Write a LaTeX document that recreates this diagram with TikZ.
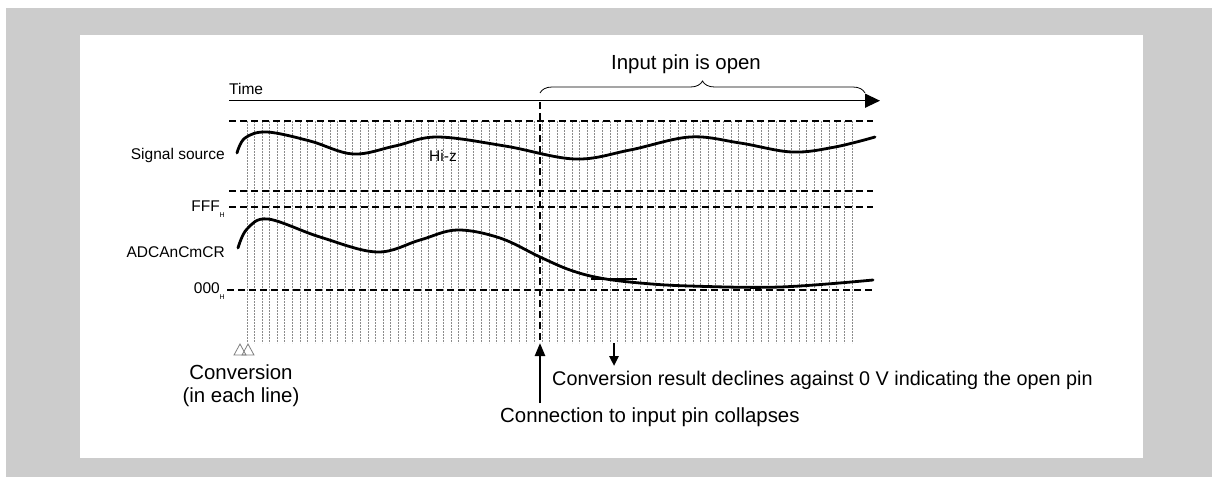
\documentclass[tikz,border=0pt]{standalone}
\usepackage{fontspec}
\setmainfont{Liberation Sans}
\usetikzlibrary{decorations.pathreplacing,arrows.meta}
\begin{document}
\begin{tikzpicture}[x=1pt,y=-1pt,
 lbl/.style={font=\fontsize{15.5}{18}\selectfont, inner sep=0pt},
 big/.style={font=\fontsize{20.4}{24}\selectfont, inner sep=0pt},
 level/.style={line width=2.4pt, dash pattern=on 7pt off 4pt},
 tickln/.style={black!45, line width=0.8pt, dash pattern=on 2pt off 1pt},
 wave/.style={line width=2.8pt, line cap=round},
 ptr/.style={line width=2.4pt, -{Triangle[length=13pt,width=10pt]}},
 tri/.style={black!50, line width=0.8pt, line join=miter},
]
\fill[white] (0,0) rectangle (1212,477);
\fill[black!20] (6,8) rectangle (1212,477);
\fill[white] (80,35) rectangle (1143,458);
\useasboundingbox (0,0) rectangle (1212,477);

% conversion ticks
\foreach \i in {0,...,80}
  \draw[tickln] ({247+7.5625*\i},121) -- ({247+7.5625*\i},343);

% levels
\coordinate (l1a) at (229,121); \coordinate (l1b) at (873,121);
\coordinate (l2a) at (229,191); \coordinate (l2b) at (873,191);
\coordinate (l3a) at (229,207); \coordinate (l3b) at (873,207);
\coordinate (l4a) at (227,290); \coordinate (l4b) at (873,290);
\draw[level] (l1a) -- (l1b);
\draw[level] (l2a) -- (l2b);
\draw[level] (l3a) -- (l3b);
\draw[level] (l4a) -- (l4b);

% time axis
\coordinate (t0) at (229,100.7);
\coordinate (t1) at (880,100.7);
\draw[line width=1.3pt, -{Triangle[length=15pt,width=14pt]}] (t0) -- (t1);
\node[lbl, anchor=west] (time) at (229,89) {Time};

% brace
\coordinate (b0) at (540,93);
\coordinate (b1) at (865,93);
\draw[decorate, decoration={brace, amplitude=12pt}, line width=0.8pt] (b0) -- (b1);
\node[big] (open) at (686,64) {Input pin is open};

% collapse marker
\coordinate (c0) at (540,102);
\coordinate (c1) at (540,343);
\draw[level] (c0) -- (c1);

% signals
\draw[wave] plot[smooth, tension=0.6] coordinates {(237,153) (245,138) (267,132) (310,141) (353,154) (395,146) (437,137) (505,146) (575,159) (630,150) (690,137) (740,143) (792,152) (835,147) (875,137)};
\draw[wave] plot[smooth, tension=0.6] coordinates {(238,248) (247,229) (268,219) (320,237) (377,252) (420,240) (457,230) (500,238) (540,257) (570,270) (600,278) (640,283) (690,286) (780,287) (873,280)};
\coordinate (s0) at (591,279); \coordinate (s1) at (637,279);
\draw[line width=2.6pt] (s0) -- (s1);

% labels
\node[lbl, anchor=east] (sig) at (225,155) {Signal source};
\node[lbl] (hiz) at (443,156) {Hi-z};
\node[lbl, anchor=east] (fff) at (225,209) {FFF\raisebox{-0.7ex}{\fontsize{7}{7}\selectfont H}};
\node[lbl, anchor=east] (adc) at (225,252) {ADCAnCmCR};
\node[lbl, anchor=east] (zero) at (225,291) {000\raisebox{-0.7ex}{\fontsize{7}{7}\selectfont H}};

% conversion triangles
\draw[tri] (234,355) -- (240,344) -- (246,355) -- cycle;
\draw[tri] (242,355) -- (248,344) -- (254,355) -- cycle;
\node[big, align=center] (conv) at (241,386) {Conversion\\[-1pt](in each line)};

% annotations
\node[big, anchor=west] (coll) at (500,417) {Connection to input pin collapses};
\coordinate (u0) at (540,403);
\draw[ptr] (u0) -- (c1);
\node[big, anchor=west, font=\fontsize{19.8}{24}\selectfont] (decl) at (552,380) {Conversion result declines against 0 V indicating the open pin};
\coordinate (d0) at (614,343);
\coordinate (d1) at (614,366);
\draw[ptr, -{Triangle[length=10pt,width=9pt]}] (d0) -- (d1);
\end{tikzpicture}
\end{document}
